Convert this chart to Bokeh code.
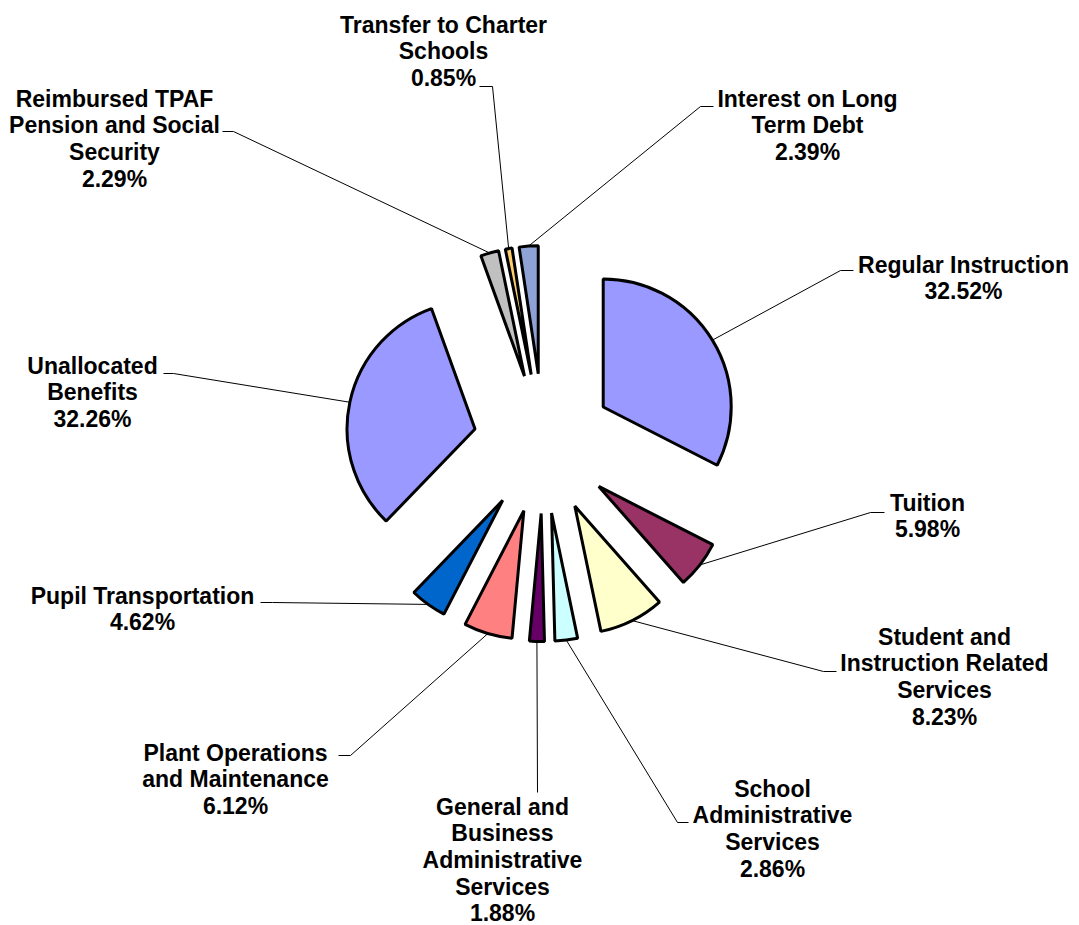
import math
from bokeh.plotting import figure
from bokeh.models import Range1d, ColumnDataSource
from bokeh.embed import file_html
from bokeh.resources import INLINE
from bokeh.core.properties import value

# ---------------- data ----------------
categories = [
    "Regular Instruction",
    "Tuition",
    "Student and Instruction Related Services",
    "School Administrative Services",
    "General and Business Administrative Services",
    "Plant Operations and Maintenance",
    "Pupil Transportation",
    "Unallocated Benefits",
    "Reimbursed TPAF Pension and Social Security",
    "Transfer to Charter Schools",
    "Interest on Long Term Debt",
]
percents = [32.52, 5.98, 8.23, 2.86, 1.88, 6.12, 4.62, 32.26, 2.29, 0.85, 2.39]
colors = ["#9999FF", "#993366", "#FFFFCC", "#CCFFFF", "#660066", "#FF8080",
          "#0066CC", "#9999FF", "#C0C0C0", "#FFCC70", "#8EA2D6"]

# label wrapping (presentation)
label_lines = [
    ["Regular Instruction"],
    ["Tuition"],
    ["Student and", "Instruction Related", "Services"],
    ["School", "Administrative", "Services"],
    ["General and", "Business", "Administrative", "Services"],
    ["Plant Operations", "and Maintenance"],
    ["Pupil Transportation"],
    ["Unallocated", "Benefits"],
    ["Reimbursed TPAF", "Pension and Social", "Security"],
    ["Transfer to Charter", "Schools"],
    ["Interest on Long", "Term Debt"],
]

# ---------------- layout (screen px, y down) ----------------
CX, CY, R, EXPLODE = 543, 443, 128, 70
LINE_H = 26.7
label_pos = [(963, 264), (927, 502), (944, 636), (772, 788), (502, 806), (235, 752),
             (142, 595), (92, 365), (114, 98), (443, 24), (807, 98)]
leader_tail = [
    [(840, 270), (853, 270)],
    [(870, 512), (884, 512)],
    [(823, 671), (836, 671)],
    [(677, 822), (688, 822)],
    [(537, 792)],
    [(350, 755), (338, 755)],
    [(272, 602), (260, 602)],
    [(173, 373), (163, 373)],
    [(233, 131), (222, 131)],
    [(492, 86), (479, 86)],
    [(700, 106), (713, 106)],
]

# ---------------- geometry from data ----------------
total = sum(percents)
xs_c, ys_c, starts, ends = [], [], [], []
lx, ly = [], []
cum = 0.0
for pct in percents:
    t0 = cum / total * 2 * math.pi
    cum += pct
    t1 = cum / total * 2 * math.pi
    tm = (t0 + t1) / 2
    # clockwise from 12 o'clock; data y = -screen y
    cx = CX + EXPLODE * math.sin(tm)
    cy = -CY + EXPLODE * math.cos(tm)
    xs_c.append(cx)
    ys_c.append(cy)
    starts.append(math.pi / 2 - t1)
    ends.append(math.pi / 2 - t0)
    lx.append(cx + R * math.sin(tm))
    ly.append(cy + R * math.cos(tm))

src = ColumnDataSource(dict(x=xs_c, y=ys_c, start=starts, end=ends, color=colors, cat=categories))

p = figure(width=1079, height=925, output_backend="svg", toolbar_location=None,
           x_range=Range1d(0, 1079), y_range=Range1d(-925, 0), min_border=0)
p.axis.visible = False
p.grid.visible = False
p.outline_line_color = None
p.background_fill_color = "white"
p.border_fill_color = "white"

# leader lines
mx, my = [], []
for i in range(len(categories)):
    xs = [lx[i]] + [pt[0] for pt in leader_tail[i]]
    ys = [ly[i]] + [-pt[1] for pt in leader_tail[i]]
    mx.append(xs)
    my.append(ys)
p.multi_line(xs=mx, ys=my, line_color="black", line_width=1)

p.wedge(x="x", y="y", radius=R, start_angle="start", end_angle="end",
        fill_color="color", line_color="black", line_width=3, source=src)

# labels
tx, ty, tt = [], [], []
for i, cat in enumerate(categories):
    lines = label_lines[i] + [f"{percents[i]:.2f}%"]
    x0, y0 = label_pos[i]
    for j, s in enumerate(lines):
        tx.append(x0)
        ty.append(-(y0 + j * LINE_H))
        tt.append(s)
p.text(x=tx, y=ty, text=tt, text_align="center", text_baseline="middle",
       text_font=value("Liberation Sans"), text_font_style="bold",
       text_font_size="23px", text_color="black")

open("out.html", "w").write(file_html(p, INLINE))
